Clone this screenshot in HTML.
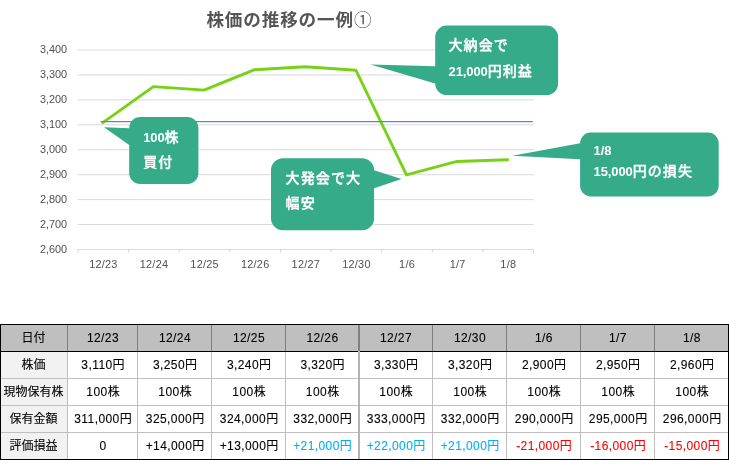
<!DOCTYPE html>
<html lang="ja">
<head>
<meta charset="utf-8">
<title>株価の推移の一例①</title>
<style>
html,body{margin:0;padding:0;background:#fff;}
body{width:729px;height:470px;position:relative;overflow:hidden;font-family:"Liberation Sans","Noto Sans CJK JP",sans-serif;}
.chart{position:absolute;left:0;top:0;display:block;}
.chart text{font-family:"Liberation Sans","Noto Sans CJK JP",sans-serif;}
.ax{font-size:10.9px;fill:#505050;}
.xl{letter-spacing:0.25px;}
.title{font-size:17.6px;font-weight:bold;fill:#555;text-anchor:middle;letter-spacing:0.85px;}
.title .c{font-weight:normal;}
.co{font-size:14px;font-weight:500;fill:#fff;stroke:#fff;stroke-width:0.35px;letter-spacing:1.1px;}
.co .n{font-size:13px;font-weight:bold;letter-spacing:-0.1px;stroke:none;}
.tbl{position:absolute;left:0;top:324px;width:729px;border-collapse:collapse;table-layout:fixed;font-size:12px;color:#000;}
.tbl th,.tbl td{height:26px;padding:0;-webkit-text-stroke:0.1px currentColor;border:1px solid #bfbfbf;text-align:center;vertical-align:middle;font-weight:normal;line-height:26px;white-space:nowrap;overflow:hidden;background:#fff;}
.tbl th.h{background:#bfbfbf;border-color:#7f7f7f;border-top-color:#000;border-bottom-color:#000;}
.tbl th.k{background:#f2f2f2;}
.tbl tr>*:first-child{border-left-color:#000;}
.tbl tr>*:last-child{border-right-color:#000;}
.tbl tr:last-child>*{border-bottom-color:#000;}
.tbl td,.tbl th.h{padding-left:1px;}
.tbl tr>th:first-child{padding-left:0;padding-right:1px;}
.tbl .n{letter-spacing:0.42px;}
.tbl .b{color:#00b0f0;}
.tbl .r{color:#ff0000;}
.frame{position:absolute;left:0;top:324px;width:727px;height:134px;border:1px solid #000;pointer-events:none;}
.seam{position:absolute;left:358px;top:325px;width:2px;height:134px;background:#b3b3b3;}
.seam i{display:block;width:2px;height:26px;background:#808080;}
</style>
</head>
<body>
<svg class="chart" width="729" height="300" viewBox="0 0 729 300">
<line x1="77.70" y1="50.00" x2="533.70" y2="50.00" stroke="#d9d9d9" stroke-width="1"/>
<line x1="77.70" y1="74.94" x2="533.70" y2="74.94" stroke="#d9d9d9" stroke-width="1"/>
<line x1="77.70" y1="99.88" x2="533.70" y2="99.88" stroke="#d9d9d9" stroke-width="1"/>
<line x1="77.70" y1="124.81" x2="533.70" y2="124.81" stroke="#d9d9d9" stroke-width="1"/>
<line x1="77.70" y1="149.75" x2="533.70" y2="149.75" stroke="#d9d9d9" stroke-width="1"/>
<line x1="77.70" y1="174.69" x2="533.70" y2="174.69" stroke="#d9d9d9" stroke-width="1"/>
<line x1="77.70" y1="199.62" x2="533.70" y2="199.62" stroke="#d9d9d9" stroke-width="1"/>
<line x1="77.70" y1="224.56" x2="533.70" y2="224.56" stroke="#d9d9d9" stroke-width="1"/>
<line x1="77.70" y1="249.50" x2="533.70" y2="249.50" stroke="#d9d9d9" stroke-width="1"/>
<line x1="78.00" y1="249.50" x2="78.00" y2="252.90" stroke="#d9d9d9" stroke-width="1"/>
<line x1="128.61" y1="249.50" x2="128.61" y2="252.90" stroke="#d9d9d9" stroke-width="1"/>
<line x1="179.22" y1="249.50" x2="179.22" y2="252.90" stroke="#d9d9d9" stroke-width="1"/>
<line x1="229.83" y1="249.50" x2="229.83" y2="252.90" stroke="#d9d9d9" stroke-width="1"/>
<line x1="280.44" y1="249.50" x2="280.44" y2="252.90" stroke="#d9d9d9" stroke-width="1"/>
<line x1="331.06" y1="249.50" x2="331.06" y2="252.90" stroke="#d9d9d9" stroke-width="1"/>
<line x1="381.67" y1="249.50" x2="381.67" y2="252.90" stroke="#d9d9d9" stroke-width="1"/>
<line x1="432.28" y1="249.50" x2="432.28" y2="252.90" stroke="#d9d9d9" stroke-width="1"/>
<line x1="482.89" y1="249.50" x2="482.89" y2="252.90" stroke="#d9d9d9" stroke-width="1"/>
<line x1="533.50" y1="249.50" x2="533.50" y2="252.90" stroke="#d9d9d9" stroke-width="1"/>
<text class="ax" x="67.2" y="52.50" text-anchor="end">3,400</text>
<text class="ax" x="67.2" y="77.58" text-anchor="end">3,300</text>
<text class="ax" x="67.2" y="102.65" text-anchor="end">3,200</text>
<text class="ax" x="67.2" y="127.72" text-anchor="end">3,100</text>
<text class="ax" x="67.2" y="152.80" text-anchor="end">3,000</text>
<text class="ax" x="67.2" y="177.88" text-anchor="end">2,900</text>
<text class="ax" x="67.2" y="202.95" text-anchor="end">2,800</text>
<text class="ax" x="67.2" y="228.03" text-anchor="end">2,700</text>
<text class="ax" x="67.2" y="253.10" text-anchor="end">2,600</text>
<text class="ax xl" x="103.41" y="268.2" text-anchor="middle">12/23</text>
<text class="ax xl" x="154.02" y="268.2" text-anchor="middle">12/24</text>
<text class="ax xl" x="204.63" y="268.2" text-anchor="middle">12/25</text>
<text class="ax xl" x="255.24" y="268.2" text-anchor="middle">12/26</text>
<text class="ax xl" x="305.85" y="268.2" text-anchor="middle">12/27</text>
<text class="ax xl" x="356.46" y="268.2" text-anchor="middle">12/30</text>
<text class="ax xl" x="407.07" y="268.2" text-anchor="middle">1/6</text>
<text class="ax xl" x="457.68" y="268.2" text-anchor="middle">1/7</text>
<text class="ax xl" x="508.29" y="268.2" text-anchor="middle">1/8</text>
<polyline points="102.81,122.57 153.42,86.66 204.03,90.15 254.64,69.70 305.25,66.71 355.86,70.20 406.47,174.94 457.08,161.47 507.69,159.73" fill="none" stroke="#77d215" stroke-width="2.9" stroke-linejoin="round" stroke-linecap="round"/>
<line x1="100.7" y1="121.62" x2="532.8" y2="121.62" stroke="#6c7bd6" stroke-width="1.2"/>
<text class="title" x="289.4" y="25.6">株価の推移の一例<tspan class="c">①</tspan></text>
<path d="M140.37,117.10 L187.23,117.10 A11.17,11.17 0 0 1 198.40,128.27 L198.40,172.93 A11.17,11.17 0 0 1 187.23,184.10 L140.37,184.10 A11.17,11.17 0 0 1 129.20,172.93 L129.20,145.02 L104.00,127.30 L129.20,128.27 L129.20,128.27 A11.17,11.17 0 0 1 140.37,117.10Z" fill="#36ab8a"/>
<text class="co" x="143.2" y="142.4"><tspan class="n">100</tspan>株</text>
<text class="co" x="143.2" y="166.8">買付</text>
<path d="M283.00,158.20 L362.10,158.20 A12.00,12.00 0 0 1 374.10,170.20 L374.10,170.20 L401.60,179.00 L374.10,188.20 L374.10,218.20 A12.00,12.00 0 0 1 362.10,230.20 L283.00,230.20 A12.00,12.00 0 0 1 271.00,218.20 L271.00,170.20 A12.00,12.00 0 0 1 283.00,158.20Z" fill="#36ab8a"/>
<text class="co" x="285.6" y="183.4">大発会で大</text>
<text class="co" x="285.6" y="207.8">幅安</text>
<path d="M446.78,25.60 L546.52,25.60 A11.58,11.58 0 0 1 558.10,37.18 L558.10,83.52 A11.58,11.58 0 0 1 546.52,95.10 L446.78,95.10 A11.58,11.58 0 0 1 435.20,83.52 L435.20,83.52 L370.50,64.40 L435.20,66.14 L435.20,37.18 A11.58,11.58 0 0 1 446.78,25.60Z" fill="#36ab8a"/>
<text class="co" x="448.5" y="50.2">大納会で</text>
<text class="co" x="448.5" y="75.8"><tspan class="n">21,000</tspan>円利益</text>
<path d="M590.73,132.60 L708.07,132.60 A10.63,10.63 0 0 1 718.70,143.23 L718.70,185.77 A10.63,10.63 0 0 1 708.07,196.40 L590.73,196.40 A10.63,10.63 0 0 1 580.10,185.77 L580.10,159.18 L512.40,155.70 L580.10,143.23 L580.10,143.23 A10.63,10.63 0 0 1 590.73,132.60Z" fill="#36ab8a"/>
<text class="co" x="593.5" y="154.6"><tspan class="n">1/8</tspan></text>
<text class="co" x="593.5" y="175.6"><tspan class="n">15,000</tspan>円の損失</text>
</svg>
<table class="tbl"><colgroup>
<col style="width:67px">
<col style="width:70px">
<col style="width:74px">
<col style="width:74px">
<col style="width:73px">
<col style="width:74px">
<col style="width:74px">
<col style="width:74px">
<col style="width:74px">
<col style="width:74px">
</colgroup>
<tr>
<th class="h">日付</th>
<th class="h"><span class="n">12/23</span></th>
<th class="h"><span class="n">12/24</span></th>
<th class="h"><span class="n">12/25</span></th>
<th class="h"><span class="n">12/26</span></th>
<th class="h"><span class="n">12/27</span></th>
<th class="h"><span class="n">12/30</span></th>
<th class="h"><span class="n">1/6</span></th>
<th class="h"><span class="n">1/7</span></th>
<th class="h"><span class="n">1/8</span></th>
</tr>
<tr>
<th class="k">株価</th>
<td><span class="n">3,110</span>円</td>
<td><span class="n">3,250</span>円</td>
<td><span class="n">3,240</span>円</td>
<td><span class="n">3,320</span>円</td>
<td><span class="n">3,330</span>円</td>
<td><span class="n">3,320</span>円</td>
<td><span class="n">2,900</span>円</td>
<td><span class="n">2,950</span>円</td>
<td><span class="n">2,960</span>円</td>
</tr>
<tr>
<th class="k">現物保有株</th>
<td><span class="n">100</span>株</td>
<td><span class="n">100</span>株</td>
<td><span class="n">100</span>株</td>
<td><span class="n">100</span>株</td>
<td><span class="n">100</span>株</td>
<td><span class="n">100</span>株</td>
<td><span class="n">100</span>株</td>
<td><span class="n">100</span>株</td>
<td><span class="n">100</span>株</td>
</tr>
<tr>
<th class="k">保有金額</th>
<td><span class="n">311,000</span>円</td>
<td><span class="n">325,000</span>円</td>
<td><span class="n">324,000</span>円</td>
<td><span class="n">332,000</span>円</td>
<td><span class="n">333,000</span>円</td>
<td><span class="n">332,000</span>円</td>
<td><span class="n">290,000</span>円</td>
<td><span class="n">295,000</span>円</td>
<td><span class="n">296,000</span>円</td>
</tr>
<tr>
<th class="k">評価損益</th>
<td><span class="n">0</span></td>
<td><span class="n">+14,000</span>円</td>
<td><span class="n">+13,000</span>円</td>
<td class="b"><span class="n">+21,000</span>円</td>
<td class="b"><span class="n">+22,000</span>円</td>
<td class="b"><span class="n">+21,000</span>円</td>
<td class="r"><span class="n">-21,000</span>円</td>
<td class="r"><span class="n">-16,000</span>円</td>
<td class="r"><span class="n">-15,000</span>円</td>
</tr>
</table>
<div class="seam"><i></i></div>
<div class="frame"></div>
</body>
</html>
